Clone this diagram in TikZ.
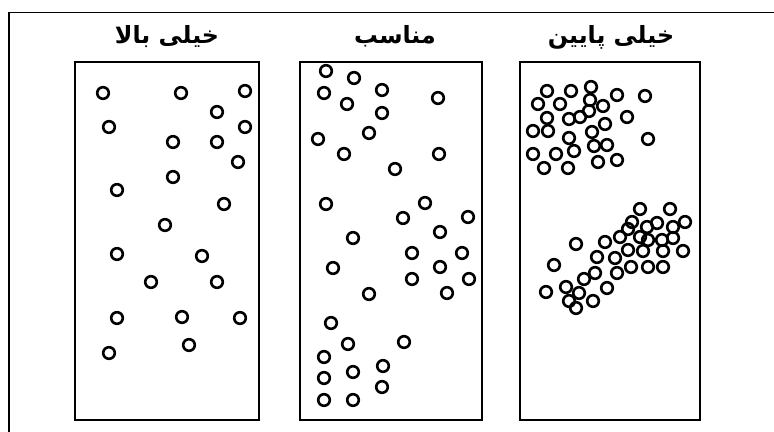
\documentclass[tikz,border=0pt]{standalone}
\usepackage{fontspec}
\newfontfamily\arabicfont[Script=Arabic]{DejaVu Sans}
\TeXXeTstate=1

\begin{document}
\begin{tikzpicture}[
  x=0.02cm, y=-0.02cm,
  frame/.style={draw, line width=0.9pt},
  panel/.style={draw, line width=1.4pt},
  title/.style={font=\arabicfont\bfseries\fontsize{13.5}{15}\selectfont, inner sep=0pt},
  ball/.style={draw, line width=1.5pt}
]
\useasboundingbox (0,0) rectangle (774,432);
\clip (0,0) rectangle (774,432);
\draw[frame] (9,12.7) rectangle (790,450);

% panels
\draw[panel] (75,62) rectangle (259,420);
\draw[panel] (300,62) rectangle (482,420);
\draw[panel] (520,62) rectangle (700,420);

% titles
\node[title] (high) at (167,37) {\beginR خیلی بالا\endR};
\node[title] (good) at (395,36) {\beginR مناسب\endR};
\node[title] (low) at (611,37) {\beginR خیلی پایین\endR};

% left: spread out
\foreach \x/\y in {103/93, 181/93, 245/91, 217/112, 109/127, 245/127, 173/142, 217/142,
  238/162, 173/177, 117/190, 224/204, 165/225, 117/254, 202/256, 151/282, 217/282,
  117/318, 182/317, 240/318, 109/353, 189/345}
  \draw[ball] (\x,\y) circle (5.8);

% middle: moderate
\foreach \x/\y in {326/71, 354/78, 324/93, 382/90, 438/98, 347/104, 382/113, 369/133,
  318/139, 344/154, 439/154, 395/169, 326/204, 425/203, 403/218, 468/217, 440/232,
  353/238, 412/253, 462/253, 333/268, 440/267, 412/279, 469/279, 369/294, 447/293,
  331/323, 348/344, 404/342, 324/357, 383/366, 353/372, 324/378, 382/387, 324/400, 353/400}
  \draw[ball] (\x,\y) circle (5.8);

% right: clustered
\foreach \x/\y in {547/91, 571/91, 591/87, 617/95, 645/96, 538/104, 560/104, 590/100,
  603/106, 589/111, 547/118, 569/119, 580/117, 627/117, 533/131, 548/131, 605/124,
  592/132, 569/138, 648/139, 594/146, 607/145, 533/154, 556/154, 574/151, 544/168,
  568/168, 598/162, 617/160}
  \draw[ball] (\x,\y) circle (5.8);
\foreach \x/\y in {640/209, 670/209, 632/222, 657/223, 685/222, 647/227, 673/227,
  628/229, 620/237, 640/237, 605/242, 648/240, 662/240, 673/238, 576/244, 628/250,
  643/251, 663/251, 683/251, 597/257, 615/258, 554/265, 631/267, 648/267, 663/267,
  595/273, 617/273, 584/279, 566/287, 607/288, 546/292, 579/293, 569/301, 593/301, 576/308}
  \draw[ball] (\x,\y) circle (5.8);
\end{tikzpicture}
\end{document}
